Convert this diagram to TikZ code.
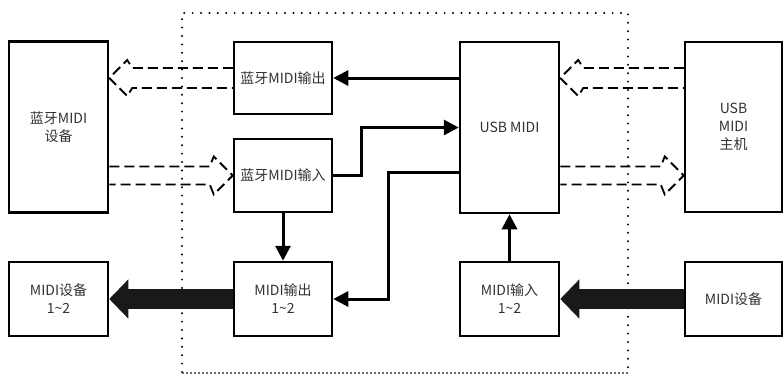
\documentclass[tikz,border=0pt]{standalone}
\usepackage{fontspec}
\setmainfont{Noto Sans CJK SC}
\usetikzlibrary{arrows.meta,calc}
\begin{document}
\begin{tikzpicture}[x=1pt,y=-1pt,
  box/.style={draw, line width=2.5pt, fill=white, inner sep=0pt, align=center,
    text=black!80, font=\fontsize{14}{18}\selectfont},
  tall/.style={box, minimum width=99pt, minimum height=171pt},
  small/.style={box, minimum width=98pt, minimum height=74pt},
  sarrow/.style={line width=3pt, -{Triangle[length=15pt,width=15pt]}},
  fat/.style={line width=20pt, draw=black!90, -{Triangle[length=19pt,width=38pt]}},
  hollow/.style={line width=1.8pt, dash pattern=on 10pt off 5pt, line join=miter},
  frame/.style={line width=2.2pt, line cap=round, dash pattern=on 0pt off 8.4pt},
  framebottom/.style={line width=1.2pt, draw=black!60, dash pattern=on 1.5pt off 2.5pt}]
\useasboundingbox (0,0) rectangle (783,375);
% dotted frame
\draw[frame] (182,372) -- (182,13) -- (628,13) -- (628,372);
\draw[framebottom] (182,373) -- (628,373);
% nodes
\node[tall] (bdev) at (58.5,127) {蓝牙MIDI\\设备};
\node[small, minimum height=72pt] (bo) at (283,78) {蓝牙MIDI输出};
\node[small, minimum height=73pt] (bi) at (283,175.5) {蓝牙MIDI输入};
\node[small] (mout) at (283,299) {MIDI输出\\1\textasciitilde 2};
\node[small, minimum width=99pt] (mdev1) at (58.5,299) {MIDI设备\\1\textasciitilde 2};
\node[tall] (usb) at (509.5,127.5) {USB MIDI};
\node[tall, minimum width=97pt, minimum height=170pt] (host) at (733.5,127) {USB\\MIDI\\主机};
\node[small, minimum width=99pt] (min) at (509.5,299) {MIDI输入\\1\textasciitilde 2};
\node[small, minimum width=97pt] (mdev2) at (733.5,299) {MIDI设备};
% solid connectors
\draw[sarrow] (usb.west |- bo.east) -- (bo.east);
\draw[sarrow] (bi.east) -- ++(28,0) |- (usb.west);
\draw[sarrow] ($(usb.west)+(0,45)$) -- ($(usb.west)+(-70,45)$) |- (mout.east);
\draw[sarrow] (bi.south) -- (mout.north);
\draw[sarrow] (min.north) -- (usb.south);
% fat arrows
\draw[fat] (mout.west) -- (mdev1.east);
\draw[fat] (mdev2.west) -- (min.east);
% hollow dashed arrows
\draw[hollow] ($(bo.west)+(0,-10)$) -- ($(bo.west -| bdev.east)+(23,-10)$) -- ++(-5,-8)
  -- (bo.west -| bdev.east) -- ++(18,18) -- ++(5,-8) -- ($(bo.west)+(0,10)$);
\draw[hollow] ($(bi.west -| bdev.east)+(0,-9)$) -- ($(bi.west)+(-23,-9)$) -- ++(4,-10)
  -- (bi.west) -- ++(-19,19) -- ++(-4,-10) -- ($(bi.west -| bdev.east)+(0,9)$);
\draw[hollow] ($(host.west |- bo.west)+(0,-10)$) -- ($(usb.east |- bo.west)+(23,-10)$) -- ++(-5,-8)
  -- (usb.east |- bo.west) -- ++(18,18) -- ++(5,-8) -- ($(host.west |- bo.west)+(0,10)$);
\draw[hollow] ($(usb.east |- bi.west)+(0,-9)$) -- ($(host.west |- bi.west)+(-23,-9)$) -- ++(4,-10)
  -- (host.west |- bi.west) -- ++(-19,19) -- ++(-4,-10) -- ($(usb.east |- bi.west)+(0,9)$);
\end{tikzpicture}
\end{document}
